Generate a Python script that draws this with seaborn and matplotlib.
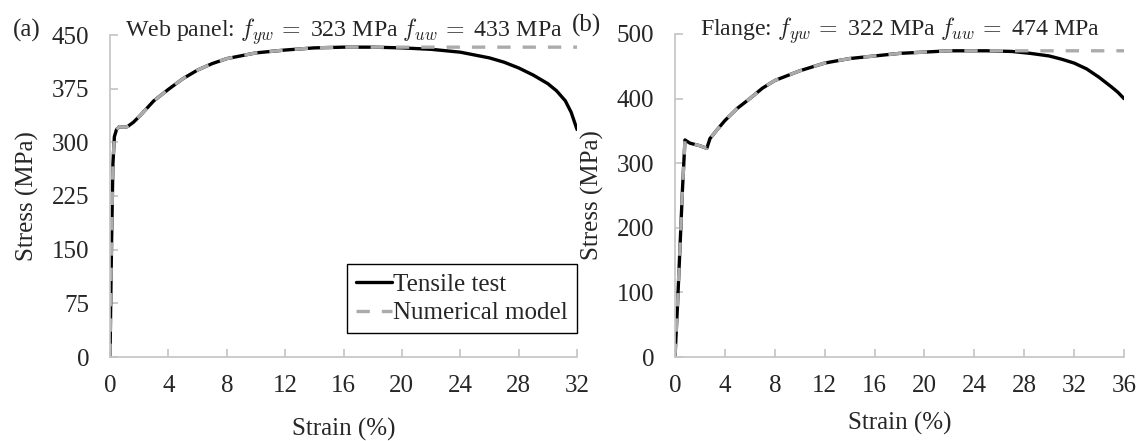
import numpy as np
import pandas as pd
import matplotlib
matplotlib.use("Agg")
import matplotlib.pyplot as plt
import matplotlib.transforms as mtransforms
import seaborn as sns

# ---- data (strain %, stress MPa) ----
web_test_strain = [0.0, 0.1, 0.2, 0.3, 0.45, 0.65, 0.9, 1.2, 1.6, 2.0, 3.0, 4.0, 5.0, 6.0, 7.0, 8.0, 10.0, 12.0, 14.0, 16.0, 18.0, 20.0, 22.0, 24.0, 26.0, 27.0, 28.0, 29.0, 30.0, 30.6, 31.2, 31.6, 32.0]
web_test_stress = [0, 150, 270, 308, 318, 322, 321, 322, 328, 336, 358, 374, 389, 401, 410, 417, 425, 429, 432, 433, 433, 432, 430, 426, 418, 412, 404, 394, 382, 372, 358, 342, 318]
web_model_strain = [0.0, 0.1, 0.2, 0.3, 0.45, 0.65, 0.9, 1.2, 1.6, 2.0, 3.0, 4.0, 5.0, 6.0, 7.0, 8.0, 10.0, 12.0, 14.0, 16.0, 18.0, 32.0]
web_model_stress = [0, 150, 270, 308, 318, 322, 321, 322, 328, 336, 358, 374, 389, 401, 410, 417, 425, 429, 432, 433, 433, 433]

fl_test_strain = [0.0, 0.2, 0.4, 0.6, 0.8, 1.2, 2.0, 2.55, 2.8, 3.3, 4.0, 5.0, 6.0, 7.0, 8.0, 10.0, 12.0, 14.0, 16.0, 18.0, 20.0, 22.0, 25.0, 27.0, 28.5, 30.0, 31.0, 32.0, 33.0, 34.0, 35.0, 35.5, 36.0]
fl_test_stress = [0, 80, 170, 260, 336, 331, 327, 323, 338, 350, 366, 385, 400, 416, 428, 443, 455, 462, 466, 470, 472, 474, 474, 473, 470, 466, 461, 455, 446, 433, 418, 410, 400]
fl_model_strain = [0.0, 0.2, 0.4, 0.6, 0.8, 1.2, 2.0, 2.55, 2.8, 3.3, 4.0, 5.0, 6.0, 7.0, 8.0, 10.0, 12.0, 14.0, 16.0, 18.0, 20.0, 22.0, 25.0, 36.0]
fl_model_stress = [0, 80, 170, 260, 336, 331, 327, 323, 338, 350, 366, 385, 400, 416, 428, 443, 455, 462, 466, 470, 472, 474, 474, 474]

sns.set_style("white")
plt.rcParams["font.family"] = ["Liberation Serif", "DejaVu Serif"]
plt.rcParams["mathtext.fontset"] = "cm"

fig = plt.figure(figsize=(11.42, 4.41), dpi=100)
ax1 = fig.add_axes([110/1142, 1-357/441, 467/1142, 322/441])
ax2 = fig.add_axes([675/1142, 1-357/441, 449/1142, 323/441])

spine_c = "#c4c4c4"
fs = 18
tfs = 17.2

def draw(ax, ts, tv, ms, mv, xmax, xticks, ymax, yticks, title, legend, xlp):
    dt = pd.DataFrame({"strain": ts, "stress": tv})
    dm = pd.DataFrame({"strain": ms, "stress": mv})
    sns.lineplot(data=dt, x="strain", y="stress", ax=ax, color="black", lw=2.4,
                 label="Tensile test", sort=False, estimator=None)
    sns.lineplot(data=dm, x="strain", y="stress", ax=ax, color="#ababab", lw=2.4,
                 label="Numerical model", sort=False, estimator=None)
    ax.lines[1].set_linestyle((0, (4, 3.6)))
    ax.set_xlim(0, xmax)
    ax.set_ylim(0, ymax)
    ax.set_xticks(xticks)
    ax.set_yticks(yticks)
    for s in ["top", "right"]:
        ax.spines[s].set_visible(False)
    for s in ["left", "bottom"]:
        ax.spines[s].set_color(spine_c)
        ax.spines[s].set_linewidth(1.2)
    ax.tick_params(direction="in", length=6, width=1.2, color=spine_c,
                   labelsize=fs, left=True, bottom=True)
    ax.tick_params(axis="x", pad=13)
    ax.tick_params(axis="y", pad=15)
    ax.set_xlabel("Strain (%)", fontsize=fs, labelpad=xlp)
    ax.set_ylabel("Stress (MPa)", fontsize=fs, labelpad=9)
    trans = mtransforms.offset_copy(ax.transAxes, fig=fig, x=0, y=-2, units="dots")
    ax.text(0.5, 1.0, title, fontsize=tfs, ha="center", va="baseline", transform=trans)
    if legend:
        leg = ax.legend(loc="lower left", bbox_to_anchor=(0.5075, 0.0745), fontsize=fs,
                        frameon=True, fancybox=False, framealpha=1, edgecolor="black",
                        handlelength=1.45, handletextpad=0.05, borderpad=0.35,
                        labelspacing=0.25, borderaxespad=0)
        leg.get_frame().set_linewidth(1.0)
    else:
        ax.get_legend().remove()

draw(ax1, web_test_strain, web_test_stress, web_model_strain, web_model_stress,
     32, [0, 4, 8, 12, 16, 20, 24, 28, 32], 450, [0, 75, 150, 225, 300, 375, 450],
     r"Web panel: $f_{yw}\,=$ 323 MPa $f_{uw}\,=$ 433 MPa", True, 15)
draw(ax2, fl_test_strain, fl_test_stress, fl_model_strain, fl_model_stress,
     36, [0, 4, 8, 12, 16, 20, 24, 28, 32, 36], 500, [0, 100, 200, 300, 400, 500],
     r"Flange: $f_{yw}\,=$ 322 MPa $f_{uw}\,=$ 474 MPa", False, 11)

fig.text(13/1142, 1-30/441, "(a)", fontsize=fs, va="center", ha="left")
fig.text(572/1142, 1-25/441, "(b)", fontsize=fs, va="center", ha="left")

fig.savefig("out.png", dpi=100)
